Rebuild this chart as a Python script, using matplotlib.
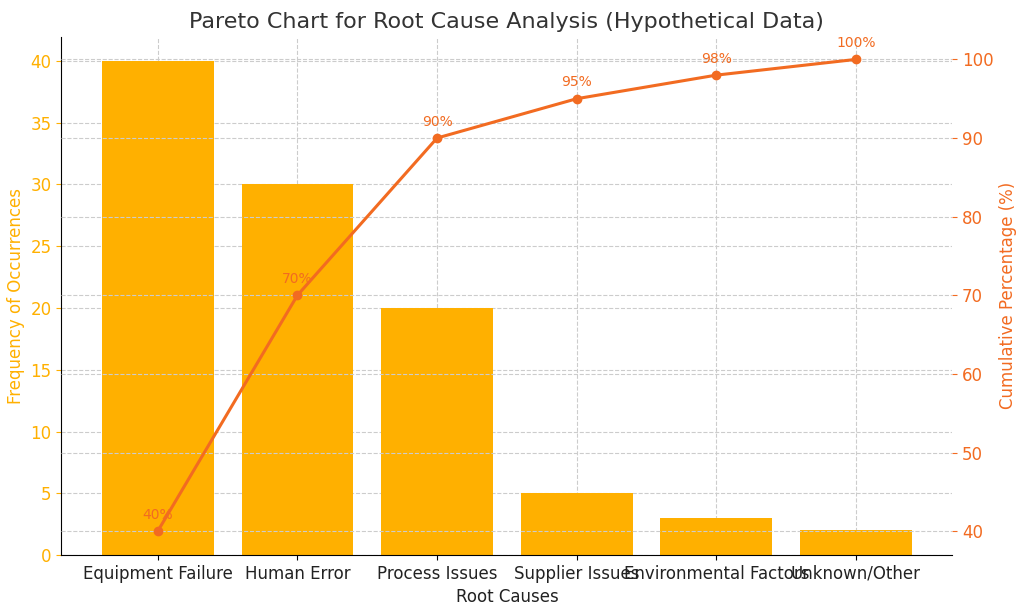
import matplotlib
matplotlib.use("Agg")
import matplotlib.pyplot as plt

categories = ["Equipment Failure", "Human Error", "Process Issues", "Supplier Issues", "Environmental Factors", "Unknown/Other"]
frequency = [40, 30, 20, 5, 3, 2]
cumulative = [40, 70, 90, 95, 98, 100]

bar_color = "#FFB000"
line_color = "#F26B21"

fig, ax = plt.subplots(figsize=(10.24, 6.1), dpi=100)
x = range(len(categories))
ax.bar(x, frequency, color=bar_color, width=0.8, zorder=2)
ax.set_xticks(list(x))
ax.set_xticklabels(categories, fontsize=12, color="#222222")
ax.set_ylim(0, 41.95)
ax.set_ylabel("Frequency of Occurrences", color=bar_color, fontsize=12)
ax.set_xlabel("Root Causes", fontsize=12, color="#222222")
ax.tick_params(axis="y", colors=bar_color, labelsize=12)
ax.grid(True, linestyle="--", color="#cccccc", linewidth=0.8, zorder=0)
ax.set_axisbelow(True)
for s in ["top", "right"]:
    ax.spines[s].set_visible(False)

ax2 = ax.twinx()
ax2.plot(list(x), cumulative, color=line_color, marker="o", linewidth=2.2, markersize=6)
for xi, c in zip(x, cumulative):
    ax2.annotate(f"{c}%", (xi, c), textcoords="offset points", xytext=(0, 9),
                 ha="center", color=line_color, fontsize=10)
ax2.set_ylim(36.95, 102.9)
ax2.set_ylabel("Cumulative Percentage (%)", color=line_color, fontsize=12)
ax2.tick_params(axis="y", colors=line_color, labelsize=12)
ax2.grid(True, linestyle="--", color="#cccccc", linewidth=0.8)
for s in ["top", "right", "left", "bottom"]:
    ax2.spines[s].set_visible(False)

ax.set_title("Pareto Chart for Root Cause Analysis (Hypothetical Data)", fontsize=16, color="#333333")
fig.subplots_adjust(left=0.06, right=0.93, top=0.94, bottom=0.09)
fig.savefig("out.png", dpi=100)
